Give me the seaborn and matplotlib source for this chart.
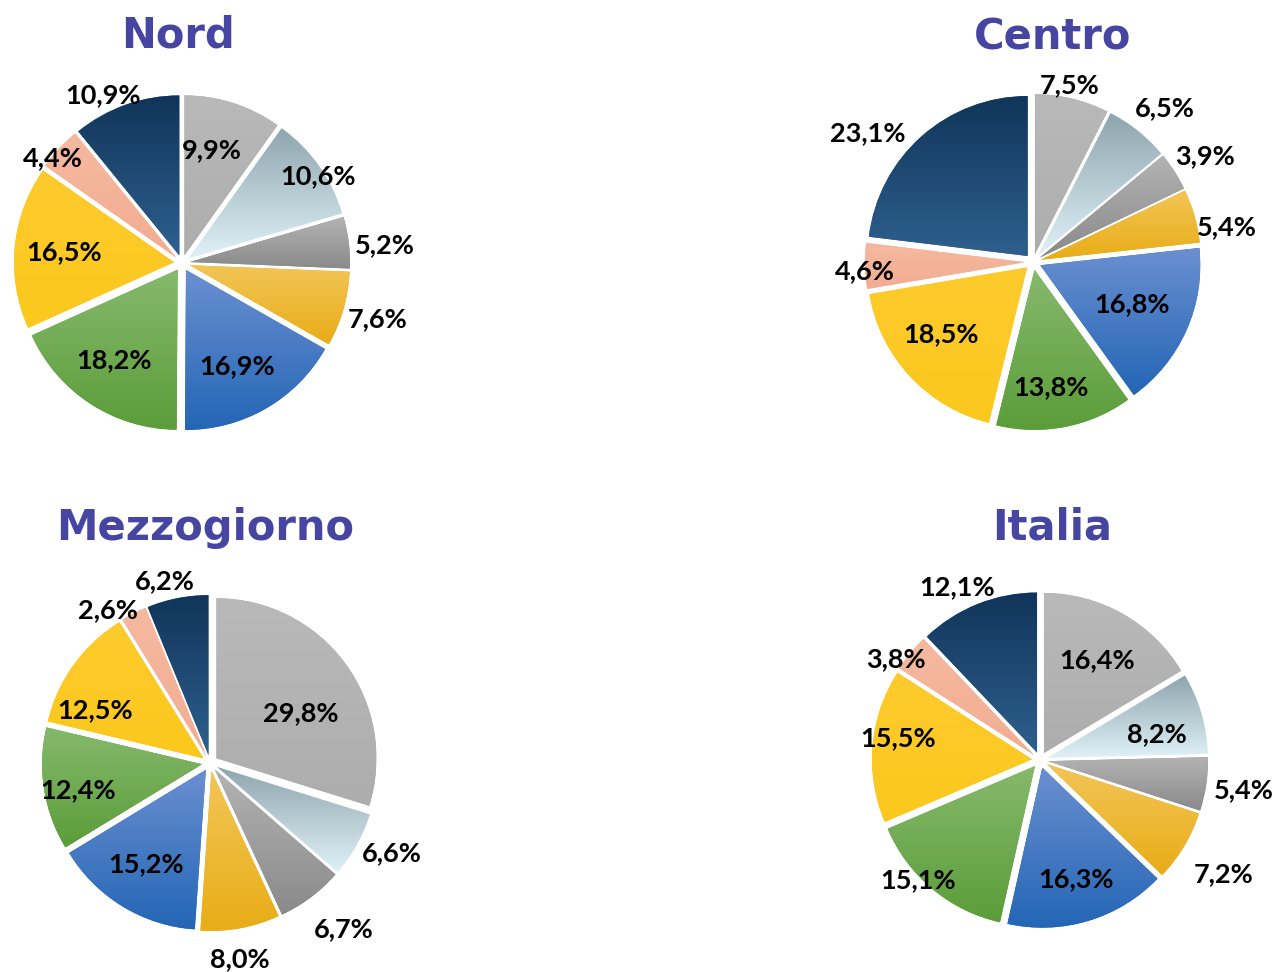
import numpy as np
import seaborn as sns
from matplotlib import pyplot as plt
from matplotlib.colors import LinearSegmentedColormap

# slice order: clockwise from 12 o'clock
regions = ["Nord", "Centro", "Mezzogiorno", "Italia"]
nord = [9.9, 10.6, 5.2, 7.6, 16.9, 18.2, 16.5, 4.4, 10.9]
centro = [7.5, 6.5, 3.9, 5.4, 16.8, 13.8, 18.5, 4.6, 23.1]
mezzogiorno = [29.8, 6.6, 6.7, 8.0, 15.2, 12.4, 12.5, 2.6, 6.2]
italia = [16.4, 8.2, 5.4, 7.2, 16.3, 15.1, 15.5, 3.8, 12.1]
values = [nord, centro, mezzogiorno, italia]

# (top colour, bottom colour) for the vertical gradient of each slice
grads = [
    ("#b9b9b9", "#adadad"),
    ("#8fa5ae", "#dff1f7"),
    ("#b3b3b3", "#8a8a8a"),
    ("#f3c557", "#e8ad17"),
    ("#6a8fd0", "#2466b6"),
    ("#86b96c", "#5b9d3a"),
    ("#fecb2e", "#fbc81d"),
    ("#f5b9a0", "#f2ad92"),
    ("#11355a", "#2e5f8e"),
]

# label placement: radius (in pie radii) and angle shift (deg, clockwise)
lab_r = [
    [0.68, -3, 0.96, 3, 1.22, 2, 1.22, 0, 0.68, 2, 0.69, 2, 0.69, 0, 0.99, -4, 1.11, -6],
    [1.08, -2, 1.22, 2, 1.21, 1, 1.18, 6, 0.62, -1, 0.74, 3, 0.68, 5, 1.0, -2, 1.26, -11],
    [0.60, 8, 1.22, -3, 1.28, -2, 1.19, 2, 0.70, 1, 0.79, -3, 0.74, -12, 1.1, -7, 1.12, -3],
    [0.67, 0, 0.70, 4, 1.24, 0, 1.30, 1, 0.73, 0, 1.02, 6, 0.85, 4, 1.05, -5, 1.15, -4],
]

centers = [(182, 263), (1033, 262), (210, 763), (1040, 760)]
title_pos = [(178, 35), (1053, 38), (205, 528), (1052, 528)]

sns.set_style("white")
W, H = 1282, 972
fig = plt.figure(figsize=(W / 100, H / 100), dpi=100)
fig.patch.set_facecolor("white")

box = 400  # axes size in px, limits +-1.25 => 160 px per unit
for k in range(4):
    cx, cy = centers[k]
    ax = fig.add_axes([(cx - box / 2) / W, (H - cy - box / 2) / H, box / W, box / H])
    vals = values[k]
    wedges, _ = ax.pie(vals, startangle=90, counterclock=False,
                       explode=[0.05] * len(vals), radius=1.0,
                       colors=[g[1] for g in grads],
                       wedgeprops=dict(linewidth=0))
    for i, w in enumerate(wedges):
        # gradient fill clipped to the wedge
        ext = w.get_path().transformed(w.get_patch_transform()).get_extents()
        cmap = LinearSegmentedColormap.from_list("g", [grads[i][1], grads[i][0]])
        grad = np.linspace(0, 1, 64).reshape(-1, 1)
        im = ax.imshow(grad, cmap=cmap, origin="lower", aspect="auto",
                       extent=[ext.x0, ext.x1, ext.y0, ext.y1], zorder=2)
        im.set_clip_path(w)
        # label
        mid = np.deg2rad((w.theta1 + w.theta2) / 2 - lab_r[k][2 * i + 1])
        r = lab_r[k][2 * i]
        x = w.center[0] + r * np.cos(mid)
        y = w.center[1] + r * np.sin(mid)
        txt = f"{vals[i]:.1f}%".replace(".", ",")
        ax.text(x, y, txt, ha="center", va="center", fontsize=19.5,
                fontweight="bold", family=["Lato", "DejaVu Sans"],
                color="black", zorder=5)
    ax.set_xlim(-1.25, 1.25)
    ax.set_ylim(-1.25, 1.25)
    ax.set_aspect("equal")
    ax.axis("off")

    tx, ty = title_pos[k]
    fig.text(tx / W, 1 - ty / H, regions[k], ha="center", va="center",
             fontsize=30, fontweight="bold", color="#4646a2",
             family="DejaVu Sans")

fig.savefig("out.png", dpi=100)
